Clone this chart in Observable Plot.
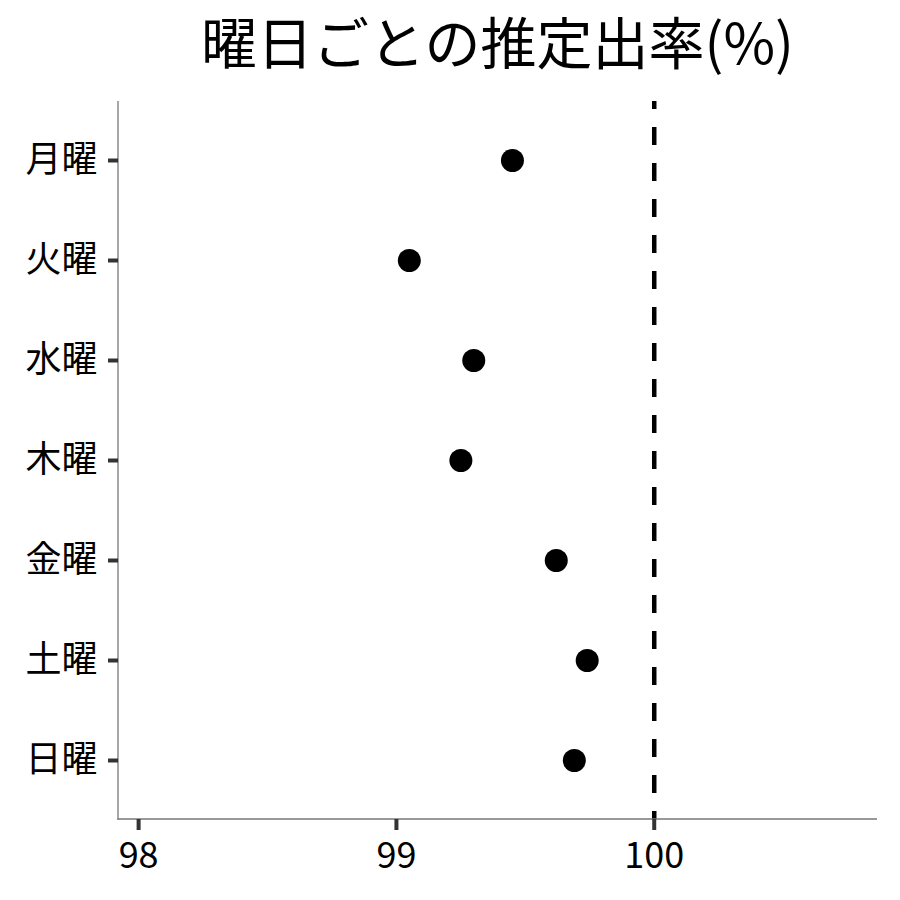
<!DOCTYPE html>
<html>
<head>
<meta charset="utf-8">
<script src="https://cdn.jsdelivr.net/npm/d3@7"></script>
<script src="https://cdn.jsdelivr.net/npm/@observablehq/plot@0.6"></script>
<style>
  html, body { margin: 0; padding: 0; background: #fff; }
  #wrap { width: 900px; height: 900px; font-family: "Noto Sans CJK JP", "Noto Sans", sans-serif; }
  #title { height: 90px; line-height: 80px; font-size: 56px; color: #000; text-align: center; padding-left: 95px; box-sizing: border-box; width: 900px; white-space: nowrap; }
</style>
</head>
<body>
<div id="wrap">
  <div id="title">曜日ごとの推定出率(%)</div>
  <div id="chart"></div>
</div>
<script>
const days = ["月曜", "火曜", "水曜", "木曜", "金曜", "土曜", "日曜"];
const rates = [99.45, 99.05, 99.30, 99.25, 99.62, 99.74, 99.69];
const xTicks = [98, 99, 100];
const refValue = [100];
const xDomain = [97.922, 100.866];

const data = days.map((d, i) => ({day: d, rate: rates[i]}));
const font = "Noto Sans CJK JP";

// axis lines (left and bottom) drawn from the plot's frame dimensions
function axisLines(index, scales, values, dim) {
  const g = d3.create("svg:g").attr("stroke", "#777").attr("stroke-width", 1.3).attr("fill", "none");
  const x0 = dim.marginLeft, x1 = dim.width - dim.marginRight;
  const y0 = dim.marginTop, y1 = dim.height - dim.marginBottom;
  g.append("line").attr("x1", x0).attr("x2", x0).attr("y1", y0).attr("y2", y1 + 0.65);
  g.append("line").attr("x1", x0 - 0.65).attr("x2", x1).attr("y1", y1).attr("y2", y1);
  return g.node();
}

const chart = Plot.plot({
  width: 900,
  height: 810,
  marginTop: 11,
  marginBottom: 81,
  marginLeft: 118,
  marginRight: 23,
  style: {fontFamily: font, background: "#fff", color: "#000"},
  x: {domain: xDomain, ticks: xTicks, label: null},
  y: {type: "point", domain: days, padding: 0.59, label: null},
  marks: [
    Plot.ruleX(refValue, {stroke: "#000", strokeWidth: 4.5, strokeDasharray: "18,18", strokeDashoffset: 10}),
    axisLines,
    Plot.axisY({tickSize: 10, tickPadding: 11, stroke: "#333", strokeWidth: 4, fill: "#000", fontSize: 36, fontFamily: font, label: null}),
    Plot.axisX({ticks: xTicks, tickSize: 11, tickPadding: 12, stroke: "#333", strokeWidth: 4, fill: "#000", fontSize: 36, fontFamily: font, label: null, tickFormat: d => String(d)}),
    Plot.dot(data, {x: "rate", y: "day", r: 11.5, fill: "#000", stroke: null})
  ]
});
document.getElementById("chart").appendChild(chart);
</script>
</body>
</html>
